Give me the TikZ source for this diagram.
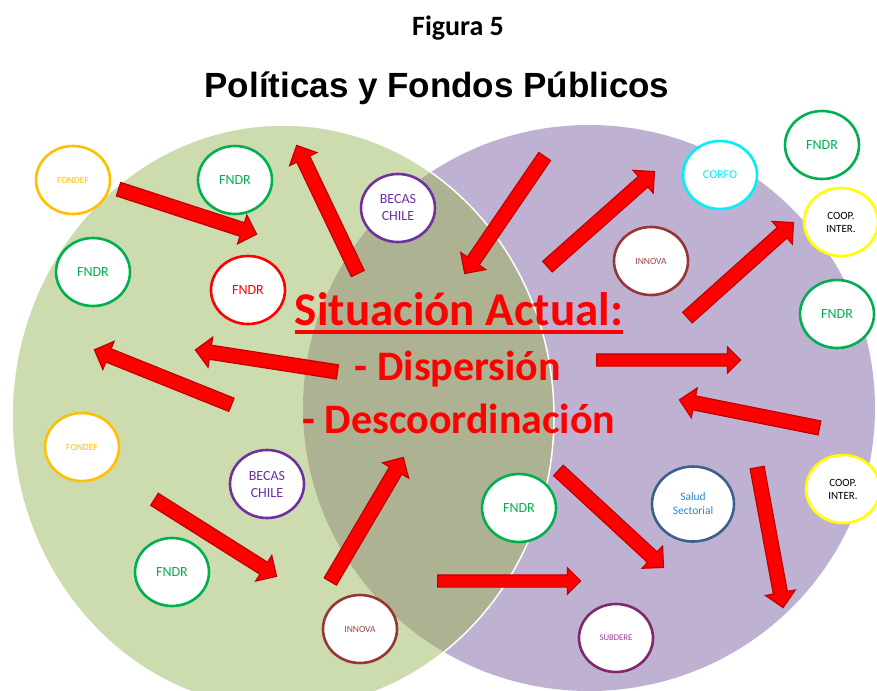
\documentclass[tikz,border=0pt]{standalone}
\usepackage{fontspec}
\setmainfont{Carlito}
\newfontfamily\arialfont{Liberation Sans}
\usetikzlibrary{shapes.geometric,shapes.arrows,calc}
\definecolor{gfill}{RGB}{205,220,175}
\definecolor{pfill}{RGB}{191,177,210}
\definecolor{ofill}{RGB}{173,178,146}
\definecolor{cgreen}{RGB}{0,176,80}
\definecolor{corange}{RGB}{255,192,0}
\definecolor{cpurple}{RGB}{112,48,160}
\definecolor{ccyan}{RGB}{0,240,250}
\definecolor{cyellow}{RGB}{255,255,0}
\definecolor{cbrown}{RGB}{149,55,53}
\definecolor{cbrowntxt}{RGB}{160,70,70}
\definecolor{csaludb}{RGB}{60,96,140}
\definecolor{csaludt}{RGB}{46,134,207}
\definecolor{csubb}{RGB}{127,40,110}
\definecolor{csubt}{RGB}{160,60,150}
\definecolor{arrred}{RGB}{255,0,0}
\definecolor{arrdark}{RGB}{192,0,0}
\newcommand\blockarr[3][]{%
  \path let \p1=($(#3)-(#2)$), \n1={veclen(\x1,\y1)}, \n2={atan2(\y1,\x1)} in
    node[blockarrow,#1,minimum height=\n1,rotate=\n2,anchor=tail] at (#2) {};}
\begin{document}
\begin{tikzpicture}[x=1pt,y=-1pt,
  bub/.style={ellipse, draw, line width=2.6pt, fill=white, inner sep=0pt,
    minimum width=74pt, minimum height=68pt, align=center},
  lbl/.style={font=\fontsize{14}{17}\selectfont},
  small/.style={font=\fontsize{9.5}{11}\selectfont},
  blockarrow/.style={single arrow, draw=arrdark, fill=arrred, line width=1.2pt,
    inner xsep=0pt, inner ysep=6.5pt, minimum width=0pt, single arrow head extend=8pt,
    single arrow tip angle=90, single arrow head indent=0pt},
  thinarrow/.style={inner ysep=5.5pt, single arrow head extend=7pt},
  bigtxt/.style={text=arrred, font=\bfseries\fontsize{47}{50}\selectfont},
  midtxt/.style={text=arrred, font=\bfseries\fontsize{42}{46}\selectfont}]
\useasboundingbox (0,0) rectangle (877,690);
\fill[white] (0,0) rectangle (877,690);
% Venn circles
\begin{scope}
  \fill[pfill] (589,408) ellipse [x radius=286pt, y radius=283pt];
  \fill[gfill] (283,417) ellipse [x radius=271pt, y radius=292pt];
  \clip (589,408) ellipse [x radius=286pt, y radius=283pt];
  \fill[ofill] (283,417) ellipse [x radius=271pt, y radius=292pt];
\end{scope}
\draw[white, line width=1.5pt] (283,417) ellipse [x radius=271pt, y radius=292pt];
% titles
\node[anchor=base, font=\bfseries\fontsize{28}{32}\selectfont] (fig) at (458,36) {Figura 5};
\node[anchor=base, font=\arialfont\bfseries\fontsize{35}{40}\selectfont] (title) at (437,98) {Políticas y Fondos Públicos};
% bubbles
\node[bub, draw=corange, text=corange, small] (fondefA) at (73,180) {FONDEF};
\node[bub, draw=cgreen, text=cgreen, lbl] (fndrA) at (235,180) {FNDR};
\node[bub, draw=cgreen, text=cgreen, lbl] (fndrB) at (93,272) {FNDR};
\node[bub, draw=arrred, text=arrred, lbl] (fndrR) at (248,290) {FNDR};
\node[bub, draw=cpurple, text=cpurple, lbl] (becasA) at (398,208) {BECAS\\CHILE};
\node[bub, draw=ccyan, text=ccyan, font=\fontsize{12}{14}\selectfont] (corfo) at (720,175) {CORFO};
\node[bub, draw=cgreen, text=cgreen, lbl] (fndrC) at (822,145) {FNDR};
\node[bub, draw=cyellow, text=black, font=\fontsize{11}{13}\selectfont] (coopA) at (841,222) {COOP.\\INTER.};
\node[bub, draw=cbrown, text=cbrowntxt, small] (innovaA) at (651,261) {INNOVA};
\node[bub, draw=cgreen, text=cgreen, lbl] (fndrD) at (837,314) {FNDR};
\node[bub, draw=corange, text=corange, small] (fondefB) at (82,447) {FONDEF};
\node[bub, draw=cpurple, text=cpurple, lbl] (becasB) at (267,484) {BECAS\\CHILE};
\node[bub, draw=cgreen, text=cgreen, lbl] (fndrE) at (172,572) {FNDR};
\node[bub, draw=cbrown, text=cbrowntxt, small] (innovaB) at (360,629) {INNOVA};
\node[bub, draw=cgreen, text=cgreen, lbl] (fndrF) at (519,508) {FNDR};
\node[bub, draw=csaludb, text=csaludt, font=\fontsize{11.5}{14}\selectfont, minimum width=82pt, minimum height=75pt] (salud) at (693,504) {Salud\\Sectorial};
\node[bub, draw=cyellow, text=black, font=\fontsize{11}{13}\selectfont] (coopB) at (843,489) {COOP.\\INTER.};
\node[bub, draw=csubb, text=csubt, font=\fontsize{8.7}{10}\selectfont] (subdere) at (616,638) {SUBDERE};
% arrow end points
\coordinate (a1s) at (118,189); \coordinate (a1e) at (256,234);
\coordinate (a2s) at (358,274); \coordinate (a2e) at (297,146);
\coordinate (a3s) at (545,156); \coordinate (a3e) at (465,273);
\coordinate (a4s) at (547,267); \coordinate (a4e) at (654,172);
\coordinate (a5s) at (687,318); \coordinate (a5e) at (793,223);
\coordinate (a6s) at (338,372); \coordinate (a6e) at (196,350);
\coordinate (a7s) at (232,405); \coordinate (a7e) at (95,350);
\coordinate (a8s) at (596,360); \coordinate (a8e) at (740,360);
\coordinate (a9s) at (820,428); \coordinate (a9e) at (680,400);
\coordinate (a10s) at (154,499); \coordinate (a10e) at (276,576);
\coordinate (a11s) at (330,582); \coordinate (a11e) at (403,458);
\coordinate (a12s) at (437,581); \coordinate (a12e) at (580,581);
\coordinate (a13s) at (558,470); \coordinate (a13e) at (663,567);
\coordinate (a14s) at (757,467); \coordinate (a14e) at (783,607);
\blockarr{a1s}{a1e}
\blockarr{a2s}{a2e}
\blockarr{a3s}{a3e}
\blockarr{a4s}{a4e}
\blockarr{a5s}{a5e}
\blockarr{a6s}{a6e}
\blockarr{a7s}{a7e}
\blockarr[thinarrow]{a8s}{a8e}
\blockarr{a9s}{a9e}
\blockarr{a10s}{a10e}
\blockarr{a11s}{a11e}
\blockarr[thinarrow]{a12s}{a12e}
\blockarr{a13s}{a13e}
\blockarr{a14s}{a14e}
% central text
\node[bigtxt, anchor=base, inner sep=0pt] (sit) at (459,325) {Situación Actual:};
\draw[arrred, line width=4pt] ([yshift=-7pt]sit.base west) -- ([yshift=-7pt]sit.base east);
\node[midtxt, anchor=base, inner sep=0pt] (disp) at (458,380) {- Dispersión};
\node[midtxt, anchor=base, inner sep=0pt] (desc) at (459,433) {- Descoordinación};
\end{tikzpicture}
\end{document}
